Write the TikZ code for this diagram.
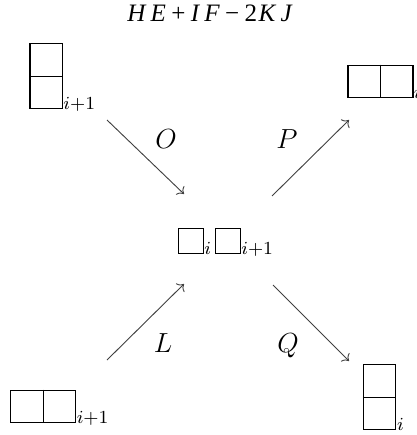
\documentclass[tikz,border=0pt]{standalone}
\usepackage{fontspec}
\newfontfamily\titlefont{Liberation Serif}
\usetikzlibrary{arrows.meta}
\newcommand\tg{\hspace{2.3pt}}
\tikzset{
  hdom/.style={draw, line width=0.45pt, inner sep=0pt, minimum width=28.26pt, minimum height=14.13pt},
  vdom/.style={draw, line width=0.45pt, inner sep=0pt, minimum width=14.13pt, minimum height=28.26pt},
  csq/.style={draw, line width=0.45pt, inner sep=0pt, minimum size=10.87pt},
  sub/.style={inner sep=0pt, anchor=base west, font=\fontsize{10.95}{13.6}\selectfont},
  lab/.style={inner sep=0pt, anchor=base, font=\large},
  arr/.style={line width=0.4pt, draw=black!75, ->},
  mid/.style={line width=0.4pt},
}
\begin{document}
\begin{tikzpicture}[x=0.4348pt,y=-0.4348pt]
\useasboundingbox (0,0) rectangle (417,435);
% title
\node[inner sep=0pt] (title) at (209.5,13) {\titlefont\fontsize{10.9}{12}\selectfont\itshape H\tg E\/\tg\upshape+\tg\itshape I\tg F\/\tg\upshape\char"2212\tg 2\hspace{0.6pt}\itshape K\tg J};
% top-left vertical domino
\node[vdom] (tl) at (46.25,76) {};
\draw[mid] (tl.west) -- (tl.east);
\node[sub] (tls) at (63,109) {$\scriptstyle i+1$};
% top-right horizontal domino
\node[hdom] (tr) at (380.5,81.5) {};
\draw[mid] (tr.north) -- (tr.south);
\node[sub] (trs) at (413.5,99) {$\scriptstyle i$};
% bottom-left horizontal domino
\node[hdom] (bl) at (43.2,406.4) {};
\draw[mid] (bl.north) -- (bl.south);
\node[sub] (bls) at (76.3,423.5) {$\scriptstyle i+1$};
% bottom-right vertical domino
\node[vdom] (br) at (379.6,397) {};
\draw[mid] (br.west) -- (br.east);
\node[sub] (brs) at (396.6,430) {$\scriptstyle i$};
% center
\node[csq] (ca) at (190.8,240.8) {};
\node[sub] (cas) at (203.8,254.2) {$\scriptstyle i$};
\node[csq] (cb) at (227.9,240.8) {};
\node[sub] (cbs) at (240.9,254.2) {$\scriptstyle i+1$};
% arrow endpoints
\coordinate (o1) at (107,120); \coordinate (o2) at (184,194);
\coordinate (p1) at (272,196); \coordinate (p2) at (349,120);
\coordinate (l1) at (107,360); \coordinate (l2) at (184,284);
\coordinate (q1) at (273,285); \coordinate (q2) at (349,361);
\draw[arr] (o1) -- (o2);
\draw[arr] (p1) -- (p2);
\draw[arr] (l1) -- (l2);
\draw[arr] (q1) -- (q2);
% labels
\node[lab] (O) at (166,148) {$O$};
\node[lab] (P) at (287,148) {$P$};
\node[lab] (L) at (163,352) {$L$};
\node[lab] (Q) at (288,352) {$Q$};
\end{tikzpicture}
\end{document}
